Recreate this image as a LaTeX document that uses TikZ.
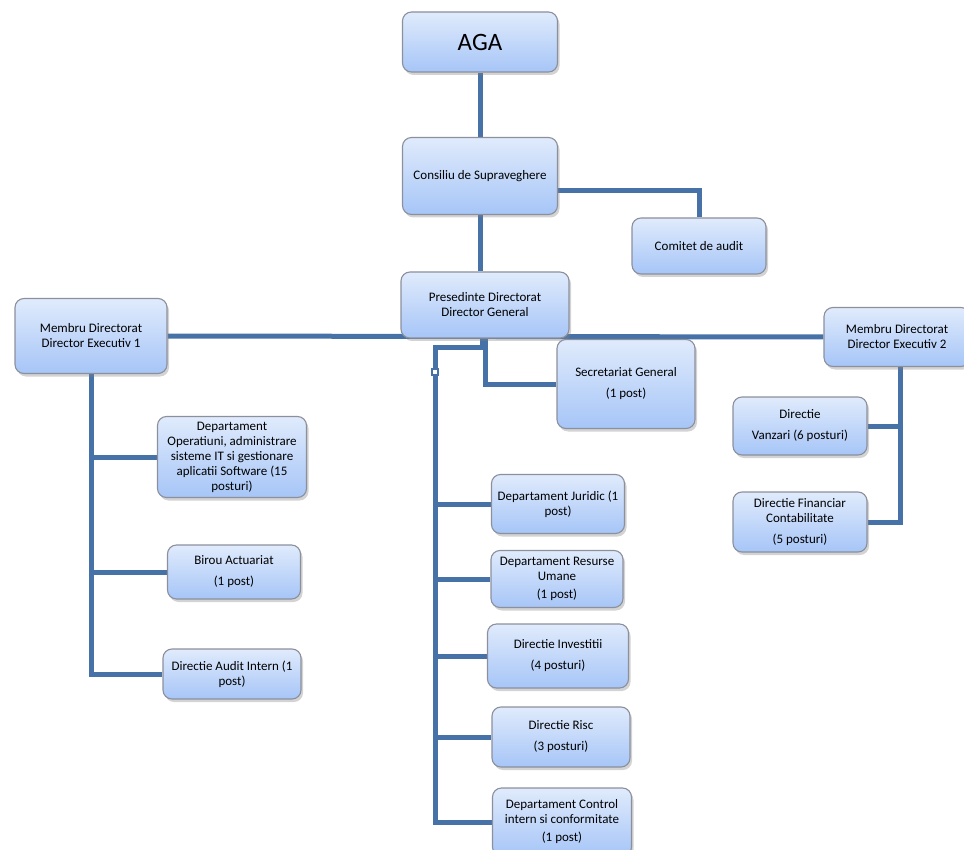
\documentclass[tikz,border=0pt]{standalone}
\usepackage{fontspec}
\setmainfont{Carlito}
\usepackage{tikz}
\usetikzlibrary{shadows,backgrounds}
\definecolor{linkblue}{RGB}{70,114,168}
\definecolor{boxtop}{RGB}{224,235,252}
\definecolor{boxbot}{RGB}{166,197,247}
\definecolor{boxline}{RGB}{140,144,156}

\begin{document}
\begin{tikzpicture}[x=1pt,y=-1pt,font=\fontsize{13}{15}\selectfont,
  box/.style={draw=boxline,line width=1.1pt,rounded corners=9pt,top color=boxtop,bottom color=boxbot,
    drop shadow={shadow xshift=2pt,shadow yshift=-3pt,opacity=0.35},align=center,inner sep=2pt},
  conn/.style={draw=linkblue,line width=5pt}
]
  \useasboundingbox (0,0) rectangle (964,850);
  % top of the chart
  \node[box,minimum width=155pt,minimum height=60pt,font=\fontsize{25}{27}\selectfont] (aga) at (480,42) {AGA};
  \node[box,minimum width=155pt,minimum height=77pt] (csv) at (480,176) {Consiliu de Supraveghere};
  \node[box,minimum width=134pt,minimum height=56pt] (com) at (699,246) {Comitet de audit};
  \node[box,minimum width=168pt,minimum height=66pt] (pd) at (485,305) {Presedinte Directorat\\Director General};
  \node[box,minimum width=152pt,minimum height=75pt] (m1) at (91,336) {Membru Directorat\\Director Executiv 1};
  \node[box,minimum width=146pt,minimum height=59pt] (m2) at (897,337) {Membru Directorat\\Director Executiv 2};
  \node[box,minimum width=138pt,minimum height=89pt] (sec) at (626,384) {Secretariat General\\[6pt](1 post)};
  % left branch
  \node[box,minimum width=149pt,minimum height=81pt] (ops) at (232,457) {Departament\\Operatiuni, administrare\\sisteme IT si gestionare\\aplicatii Software (15\\posturi)};
  \node[box,minimum width=133pt,minimum height=54pt] (act) at (234,572) {Birou Actuariat\\[6pt](1 post)};
  \node[box,minimum width=138pt,minimum height=50pt] (aud) at (232,674) {Directie Audit Intern (1\\post)};
  % middle branch
  \node[box,minimum width=133pt,minimum height=59pt] (jur) at (558,504) {Departament Juridic (1\\post)};
  \node[box,minimum width=132pt,minimum height=57pt] (ru) at (557,579) {Departament Resurse\\Umane\\[3pt](1 post)};
  \node[box,minimum width=141pt,minimum height=64pt] (inv) at (558,656) {Directie Investitii\\[6pt](4 posturi)};
  \node[box,minimum width=138pt,minimum height=60pt] (risc) at (561,737) {Directie Risc\\[6pt](3 posturi)};
  \node[box,minimum width=139pt,minimum height=68pt] (ctl) at (562,822) {Departament Control\\intern si conformitate\\[3pt](1 post)};
  % right branch
  \node[box,minimum width=134pt,minimum height=58pt] (vnz) at (800,426) {Directie\\[6pt]Vanzari (6 posturi)};
  \node[box,minimum width=134pt,minimum height=60pt] (fin) at (800,522) {Directie Financiar\\Contabilitate\\[6pt](5 posturi)};

  \coordinate (mt) at (435,348);
  \coordinate (rb) at (900,366);
  \begin{scope}[on background layer]
    \draw[conn] (aga) -- (csv);
    \draw[conn] (csv) -- (csv |- pd.north);
    \draw[conn] ([yshift=-15pt]csv.east) -| (com.north);
    \draw[conn] (m1.east) -- (m2.west);
    \draw[conn] (pd.south) |- (sec.west);
    \draw[conn] ([xshift=-3pt]pd.south) |- (mt) |- (ctl.west);
    \foreach \n in {jur,ru,inv,risc} \draw[conn] (mt |- \n.west) -- (\n.west);
    \draw[conn] (m1.south) |- (aud.west);
    \foreach \n in {ops,act} \draw[conn] (m1.south |- \n.west) -- (\n.west);
    \draw[conn] (rb) |- (fin.east);
    \draw[conn] (vnz.east) -- (vnz.east -| rb);
  \end{scope}
  \draw[linkblue,line width=1.5pt,fill=white] (432,369) rectangle (438,375);
\end{tikzpicture}
\end{document}
